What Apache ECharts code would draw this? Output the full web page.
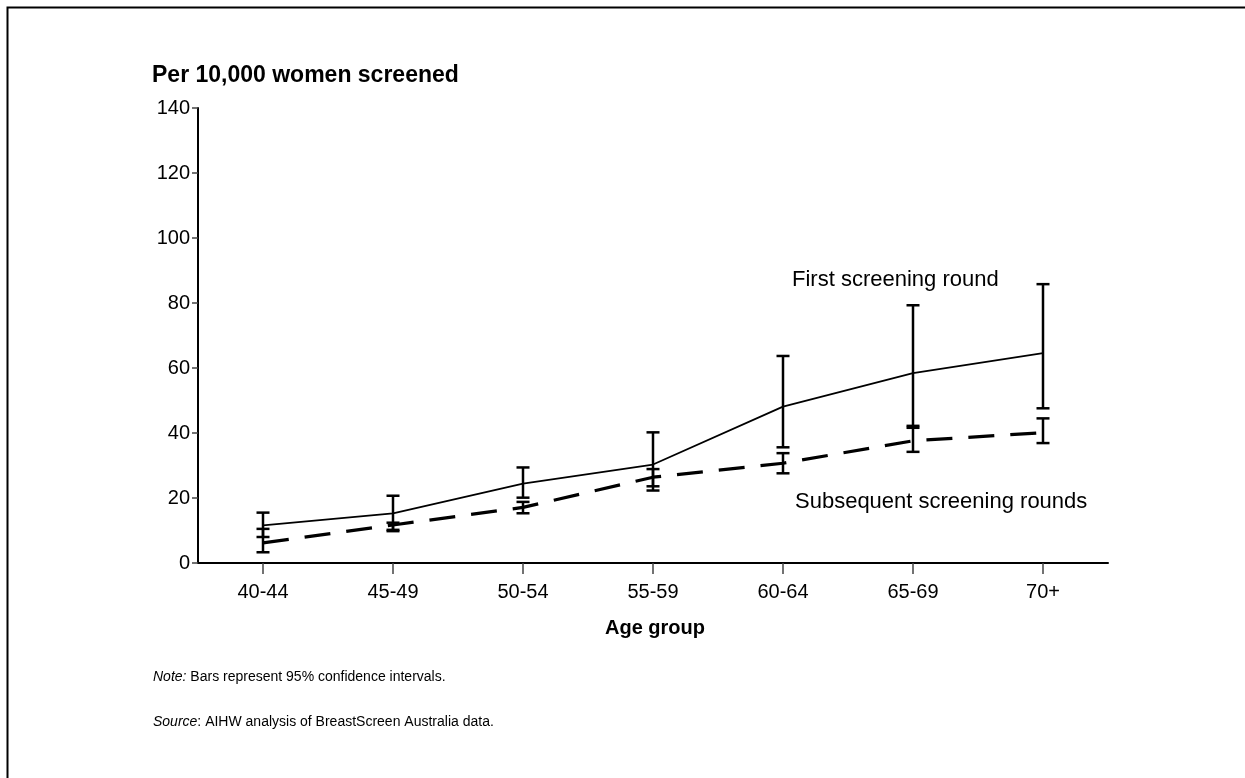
<!DOCTYPE html>
<html>
<head>
<meta charset="utf-8">
<script src="https://cdn.jsdelivr.net/npm/echarts@6/dist/echarts.min.js"></script>
<style>
html,body{margin:0;padding:0;background:#fff;}
#c{width:1245px;height:778px;}
</style>
</head>
<body>
<div id="c"></div>
<script>
const categories = ['40-44','45-49','50-54','55-59','60-64','65-69','70+'];
const firstRound = [11.6, 15.3, 24.4, 30.3, 48.1, 58.4, 64.6];
const firstLow   = [8.0, 9.8, 20.1, 22.3, 35.6, 42.2, 47.6];
const firstHigh  = [15.5, 20.7, 29.4, 40.2, 63.7, 79.3, 85.8];
const subsRounds = [6.2, 11.7, 17.1, 26.4, 30.7, 37.6, 40.1];
const subsLow    = [3.3, 10.2, 15.3, 23.6, 27.6, 34.2, 36.9];
const subsHigh   = [10.5, 12.4, 18.8, 28.9, 33.8, 41.6, 44.5];
const yTicks = [0, 20, 40, 60, 80, 100, 120, 140];

const FONT = '"Liberation Sans", Arial, sans-serif';

function errData(low, high) {
  return categories.map((c, i) => [i, low[i], high[i]]);
}
function renderErr(params, api) {
  const x = api.value(0);
  const p1 = api.coord([x, api.value(1)]);
  const p2 = api.coord([x, api.value(2)]);
  const hw = 6.5;
  const st = { stroke: '#000', lineWidth: 2.5 };
  return {
    type: 'group',
    children: [
      { type: 'line', shape: { x1: p1[0], y1: p1[1], x2: p2[0], y2: p2[1] }, style: st },
      { type: 'line', shape: { x1: p1[0]-hw, y1: p1[1], x2: p1[0]+hw, y2: p1[1] }, style: st },
      { type: 'line', shape: { x1: p2[0]-hw, y1: p2[1], x2: p2[0]+hw, y2: p2[1] }, style: st }
    ]
  };
}

const chart = echarts.init(document.getElementById('c'), null, { renderer: 'canvas' });
chart.setOption({
  backgroundColor: '#fff',
  animation: false,
  textStyle: { fontFamily: FONT },
  grid: { left: 198, right: 137, top: 108, bottom: 215, containLabel: false },
  xAxis: {
    type: 'category',
    data: categories,
    boundaryGap: true,
    axisLine: { show: true, lineStyle: { color: '#000', width: 2 } },
    axisTick: { show: true, alignWithLabel: true, length: 11, lineStyle: { color: '#444', width: 1.5 } },
    axisLabel: { color: '#000', fontSize: 20, fontFamily: FONT, margin: 19 },
    splitLine: { show: false }
  },
  yAxis: {
    type: 'value',
    min: 0, max: 140, interval: 20,
    axisLine: { show: true, lineStyle: { color: '#000', width: 2 } },
    axisTick: { show: true, length: 6, lineStyle: { color: '#444', width: 1.5 } },
    axisLabel: { color: '#000', fontSize: 20, fontFamily: FONT, margin: 8,
      formatter: v => yTicks.includes(v) ? String(v) : '' },
    splitLine: { show: false }
  },
  graphic: [
    { type: 'rect', left: 5, top: 5, shape: { width: 1260, height: 800 },
      style: { fill: 'none', stroke: '#000', lineWidth: 2 }, silent: true },
    { type: 'text', left: 152, top: 64,
      style: { text: 'Per 10,000 women screened', font: 'bold 23px ' + FONT, fill: '#000' } },
    { type: 'text', left: 605, top: 618,
      style: { text: 'Age group', font: 'bold 20px ' + FONT, fill: '#000' } },
    { type: 'text', left: 792, top: 269,
      style: { text: 'First screening round', font: '22px ' + FONT, fill: '#000' } },
    { type: 'text', left: 795, top: 491,
      style: { text: 'Subsequent screening rounds', font: '22px ' + FONT, fill: '#000' } },
    { type: 'text', left: 153, top: 670,
      style: { rich: { i: { fontStyle: 'italic', fontSize: 14, fontFamily: FONT, fill: '#000' },
                       n: { fontSize: 14, fontFamily: FONT, fill: '#000' } },
               text: '{i|Note:}{n| Bars represent 95% confidence intervals.}' } },
    { type: 'text', left: 153, top: 715,
      style: { rich: { i: { fontStyle: 'italic', fontSize: 14, fontFamily: FONT, fill: '#000' },
                       n: { fontSize: 14, fontFamily: FONT, fill: '#000' } },
               text: '{i|Source}{n|: AIHW analysis of BreastScreen Australia data.}' } }
  ],
  series: [
    { name: 'First screening round', type: 'line', data: firstRound, symbol: 'none',
      lineStyle: { color: '#000', width: 1.8 }, z: 3 },
    { name: 'Subsequent screening rounds', type: 'line', data: subsRounds, symbol: 'none',
      lineStyle: { color: '#000', width: 3.2, type: [26, 16] }, z: 3 },
    { type: 'custom', data: errData(firstLow, firstHigh), renderItem: renderErr, z: 4,
      encode: { x: 0, y: [1, 2] } },
    { type: 'custom', data: errData(subsLow, subsHigh), renderItem: renderErr, z: 4,
      encode: { x: 0, y: [1, 2] } }
  ]
});
</script>
</body>
</html>
